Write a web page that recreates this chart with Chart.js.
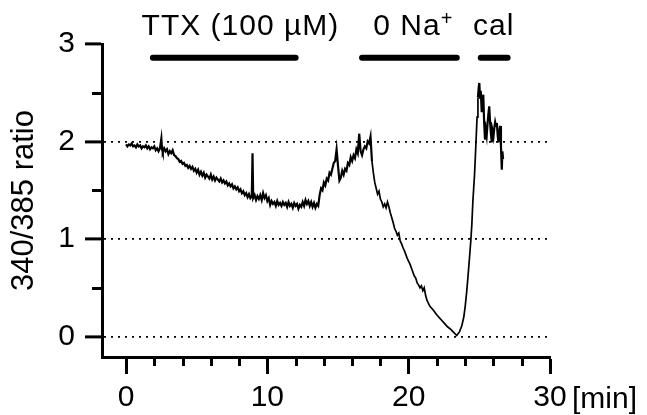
<!DOCTYPE html>
<html>
<head>
<meta charset="utf-8">
<script src="https://cdn.jsdelivr.net/npm/chart.js@4.4.1/dist/chart.umd.min.js"></script>
<style>
  body { margin: 0; background: #fff; }
  #wrap { width: 647px; height: 415px; position: relative; }
</style>
</head>
<body>
<div id="wrap"><canvas id="ratioChart"></canvas></div>
<script>
// time in minutes, 340/385 fura-2 ratio
var times = [
  0.0, 0.1, 0.2, 0.3, 0.4, 0.5, 0.6, 0.7, 0.8, 0.9, 1.0, 1.1, 1.2, 1.3, 1.4, 1.5, 1.6, 1.7, 1.8, 1.9,
  2.0, 2.1, 2.2, 2.3, 2.4, 2.5, 2.55, 2.6, 2.7, 2.8, 2.9, 3.0, 3.1, 3.2, 3.3, 3.4, 3.5, 3.6, 3.7, 3.8, 3.9,
  4.0, 4.1, 4.2, 4.3, 4.4, 4.5, 4.6, 4.7, 4.8, 4.9, 5.0, 5.1, 5.2, 5.3, 5.4, 5.5, 5.6, 5.7, 5.8, 5.9,
  6.0, 6.1, 6.2, 6.3, 6.4, 6.5, 6.6, 6.7, 6.8, 6.9, 7.0, 7.1, 7.2, 7.3, 7.4, 7.5, 7.6, 7.7, 7.8, 7.9,
  8.0, 8.1, 8.2, 8.3, 8.4, 8.5, 8.6, 8.7, 8.8, 8.9, 8.95, 9.0, 9.1, 9.2, 9.3, 9.4, 9.5, 9.6, 9.7, 9.8, 9.9,
  10.0, 10.1, 10.2, 10.3, 10.4, 10.5, 10.6, 10.7, 10.8, 10.9, 11.0, 11.1, 11.2, 11.3, 11.4, 11.5, 11.6, 11.7, 11.8, 11.9,
  12.0, 12.1, 12.2, 12.3, 12.4, 12.5, 12.6, 12.7, 12.8, 12.9, 13.0, 13.1, 13.2, 13.3, 13.4, 13.5, 13.6,
  13.7, 13.8, 13.9, 14.0, 14.1, 14.2, 14.3, 14.4, 14.5, 14.6, 14.7, 14.8, 14.9,
  15.0, 15.1, 15.2, 15.3, 15.4, 15.5, 15.6, 15.7, 15.8, 15.9,
  16.0, 16.1, 16.2, 16.3, 16.4, 16.5, 16.6, 16.7, 16.8, 16.9, 17.0, 17.1, 17.2, 17.3,
  17.4, 17.5, 17.6, 17.7, 17.8, 17.9, 18.0, 18.1, 18.2, 18.3, 18.4, 18.5, 18.6, 18.7, 18.8, 18.9,
  19.0, 19.1, 19.2, 19.3, 19.4, 19.5, 19.6, 19.7, 19.8, 19.9, 20.0, 20.1, 20.2, 20.3, 20.4, 20.5,
  20.6, 20.7, 20.8, 20.9, 21.0, 21.1, 21.2, 21.3, 21.4, 21.5,
  21.75, 22.0, 22.25, 22.5, 22.75, 23.0, 23.2, 23.4,
  23.6, 23.76, 23.9, 24.0, 24.1, 24.2, 24.3, 24.4, 24.47, 24.54, 24.6, 24.66,
  24.72, 24.78, 24.84, 24.9, 24.96, 25.0, 25.05, 25.1, 25.17, 25.22, 25.28, 25.34,
  25.4, 25.46, 25.52, 25.58, 25.64, 25.7, 25.76, 25.82, 25.88, 25.94, 26.0,
  26.06, 26.12, 26.18, 26.24, 26.3, 26.35, 26.41, 26.47, 26.53, 26.59, 26.63, 26.68
];
var ratio = [
  1.97, 1.95, 1.97, 1.96, 1.98, 1.95, 1.96, 1.94, 1.97, 1.95, 1.96, 1.93, 1.95, 1.94, 1.96, 1.93, 1.95, 1.92, 1.94, 1.93,
  1.95, 1.91, 1.93, 1.90, 1.93, 2.03, 1.92, 1.89, 1.93, 1.90, 1.92, 1.87, 1.90, 1.88, 1.91, 1.86, 1.85, 1.83, 1.82, 1.79, 1.80,
  1.77, 1.78, 1.75, 1.76, 1.73, 1.75, 1.72, 1.74, 1.70, 1.72, 1.68, 1.71, 1.66, 1.69, 1.65, 1.68, 1.63, 1.66, 1.64, 1.62,
  1.66, 1.61, 1.64, 1.60, 1.63, 1.61, 1.59, 1.62, 1.58, 1.60, 1.57, 1.59, 1.55, 1.57, 1.54, 1.56, 1.52, 1.54, 1.51, 1.53,
  1.49, 1.51, 1.47, 1.49, 1.45, 1.47, 1.43, 1.46, 1.42, 1.44, 1.88, 1.42, 1.45, 1.40, 1.44, 1.41, 1.45, 1.40, 1.47, 1.42, 1.45,
  1.39, 1.42, 1.35, 1.39, 1.36, 1.38, 1.34, 1.39, 1.35, 1.37, 1.34, 1.38, 1.35, 1.37, 1.33, 1.38, 1.34, 1.36, 1.32, 1.37,
  1.34, 1.36, 1.31, 1.35, 1.33, 1.38, 1.34, 1.40, 1.36, 1.39, 1.34, 1.38, 1.33, 1.37, 1.32, 1.36, 1.34,
  1.45, 1.52, 1.50, 1.58, 1.55, 1.62, 1.60, 1.68, 1.66, 1.72, 1.78, 1.80, 1.92,
  1.75, 1.60, 1.63, 1.70, 1.66, 1.72, 1.70, 1.78, 1.76, 1.84,
  1.80, 1.86, 1.83, 1.92, 1.88, 2.08, 1.90, 1.86, 1.92, 1.95, 1.93, 2.00, 1.98, 2.05,
  1.80, 1.68, 1.58, 1.52, 1.46, 1.49, 1.41, 1.38, 1.33, 1.36, 1.32, 1.38, 1.33, 1.27, 1.22, 1.17,
  1.11, 1.08, 1.04, 1.06, 0.98, 0.95, 0.91, 0.88, 0.84, 0.80, 0.77, 0.74, 0.70, 0.66, 0.62, 0.60,
  0.55, 0.53, 0.50, 0.52, 0.47, 0.50, 0.42, 0.37, 0.34, 0.31,
  0.27, 0.22, 0.18, 0.14, 0.10, 0.07, 0.04, 0.01,
  0.05, 0.11, 0.20, 0.31, 0.45, 0.62, 0.80, 0.99, 1.15, 1.38, 1.52, 1.66,
  1.85, 2.05, 2.25, 2.45, 2.56, 2.60, 2.45, 2.52, 2.30, 2.40, 2.48, 2.20,
  2.02, 2.12, 2.06, 2.18, 2.28, 2.36, 2.20, 2.08, 1.99, 2.10, 2.05,
  2.14, 2.20, 2.16, 2.19, 2.06, 1.99, 2.10, 2.16, 1.95, 1.71, 1.90, 1.82
];

// application periods (min) and the level their bars sit at
var ttxBar = [1.9, 12.0];
var naBar = [16.7, 23.4];
var calBar = [25.1, 27.0];
var barLevel = 2.86;

var xMajor = [0, 10, 20, 30];
var xMinor = [2, 4, 6, 8, 12, 14, 16, 18, 22, 24, 26, 28];
var yMajor = [0, 1, 2, 3];
var yMinor = [0.5, 1.5, 2.5];
var dottedLevels = [0, 1, 2];

var FONT = '"Liberation Sans", Arial, Helvetica, sans-serif';

function barData(span) {
    return [{ x: span[0], y: barLevel }, { x: span[1], y: barLevel }];
}

function barSet(span) {
    return {
        data: barData(span),
        borderColor: '#000',
        borderWidth: 6,
        borderCapStyle: 'round',
        pointRadius: 0
    };
}

// minor ticks + annotation text
var extras = {
    id: 'extras',
    afterDraw: function (chart) {
        var ctx = chart.ctx;
        var xs = chart.scales.x, ys = chart.scales.y;
        ctx.save();
        ctx.strokeStyle = '#000';
        ctx.lineWidth = 3;
        ctx.beginPath();
        xMinor.forEach(function (v) {
            var px = Math.round(xs.getPixelForValue(v)) + 0.5;
            ctx.moveTo(px, xs.top);
            ctx.lineTo(px, xs.top + 9);
        });
        yMinor.forEach(function (v) {
            var py = Math.round(ys.getPixelForValue(v)) + 0.5;
            ctx.moveTo(ys.right - 10, py);
            ctx.lineTo(ys.right, py);
        });
        ctx.stroke();

        ctx.fillStyle = '#000';
        ctx.textBaseline = 'alphabetic';
        ctx.textAlign = 'left';
        ctx.font = '30px ' + FONT;
        ctx.letterSpacing = '1px';
        var base = ys.getPixelForValue(3.09);
        ctx.fillText('TTX (100 \u00b5M)', xs.getPixelForValue(1.1), base);
        var nx = xs.getPixelForValue(17.5);
        ctx.fillText('0 Na', nx, base);
        var w = ctx.measureText('0 Na').width;
        ctx.fillText('cal', xs.getPixelForValue(24.55), base);
        ctx.font = '20px ' + FONT;
        ctx.letterSpacing = '0px';
        ctx.fillText('+', nx + w, base - 10);

        ctx.font = '30px ' + FONT;
        ctx.fillText('[min]', xs.getPixelForValue(30) + 22, xs.top + 51);
        ctx.restore();
    }
};

var ctx = document.getElementById('ratioChart').getContext('2d');
var ratioChart = new Chart(ctx, {
    type: 'line',
    data: {
        datasets: [{
            data: times.map(function (t, i) { return { x: t, y: ratio[i] }; }),
            borderColor: '#000',
            borderWidth: 2.2,
            pointRadius: 0,
            tension: 0,
            segment: {
                borderWidth: function (c) {
                    return (c.p0.parsed.x >= 17.35 && c.p1.parsed.x <= 24.9) ? 1.7 : 2.2;
                }
            }
        }, barSet(ttxBar), barSet(naBar), barSet(calBar)]
    },
    options: {
        animation: false,
        responsive: true,
        maintainAspectRatio: false,
        devicePixelRatio: 1,
        layout: { padding: { top: 44, right: 97, left: 0, bottom: 0 } },
        plugins: { legend: { display: false }, tooltip: { enabled: false } },
        scales: {
            x: {
                type: 'linear',
                min: -1.7,
                max: 30,
                afterBuildTicks: function (s) { s.ticks = xMajor.map(function (v) { return { value: v }; }); },
                afterFit: function (s) { s.height = 58; },
                ticks: { color: '#000', padding: 6, maxRotation: 0, font: { family: FONT, size: 30 } },
                grid: { drawOnChartArea: false, tickLength: 17, tickWidth: 3, tickColor: '#000' },
                border: { color: '#000', width: 3 }
            },
            y: {
                min: -0.21,
                max: 3,
                afterBuildTicks: function (s) { s.ticks = yMajor.map(function (v) { return { value: v }; }); },
                afterFit: function (s) { s.width = 102; },
                ticks: { color: '#000', padding: 10, font: { family: FONT, size: 30 } },
                grid: {
                    color: function (c) { return dottedLevels.indexOf(c.tick && c.tick.value) >= 0 ? '#000' : 'rgba(0,0,0,0)'; },
                    lineWidth: 1.8,
                    tickLength: 17,
                    tickWidth: 3,
                    tickColor: '#000'
                },
                border: { color: '#000', width: 3, dash: [2, 5] },
                title: {
                    display: true,
                    text: '340/385 ratio',
                    color: '#000',
                    padding: { top: 6, bottom: 0 },
                    font: { family: FONT, size: 31 }
                }
            }
        }
    },
    plugins: [extras]
});
</script>
</body>
</html>
